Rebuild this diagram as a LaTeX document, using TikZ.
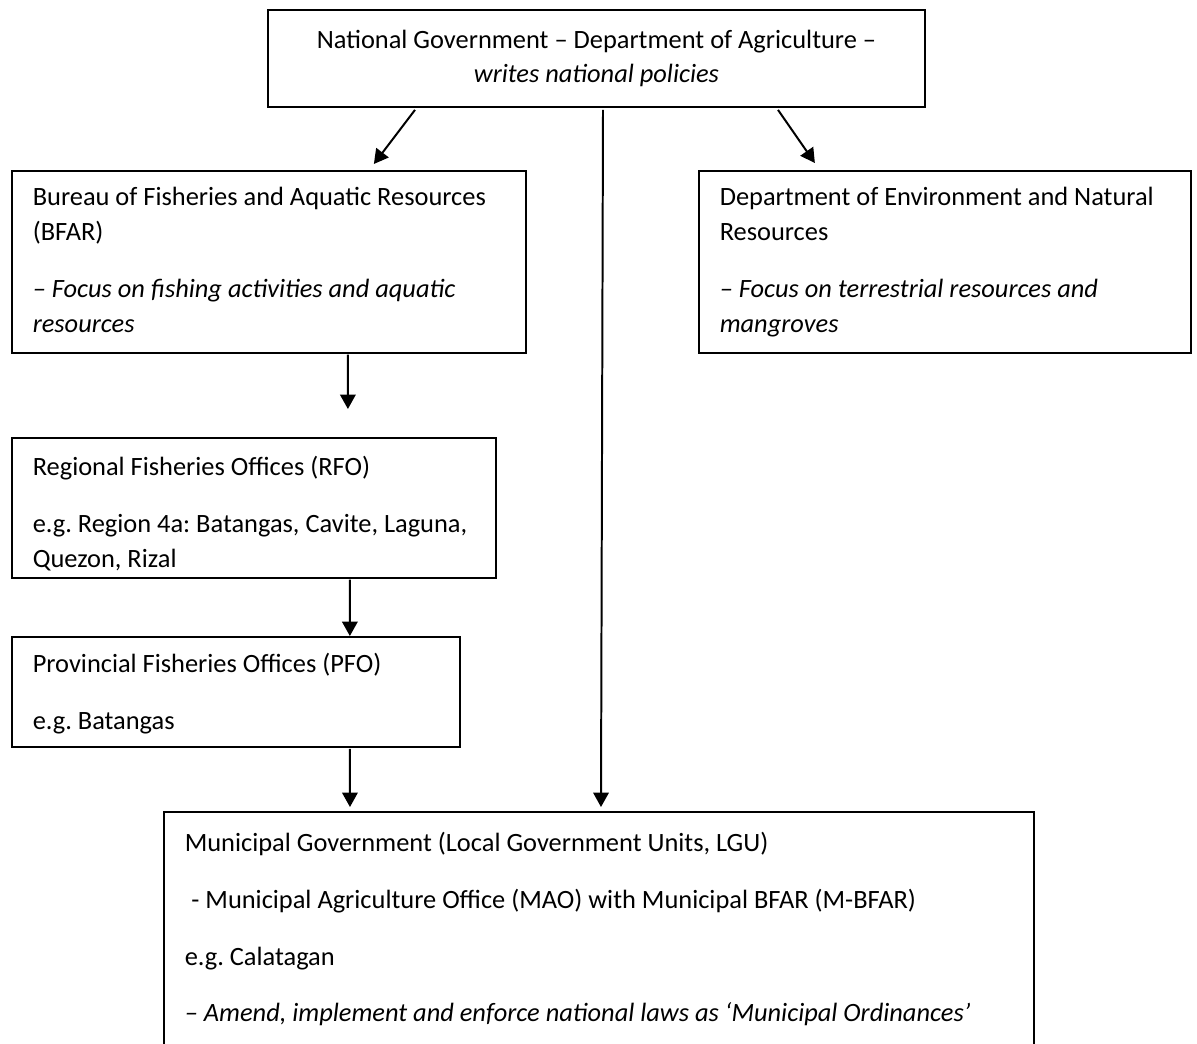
\documentclass[tikz,border=0pt]{standalone}
\usepackage{fontspec}
\setmainfont{Carlito}
\usetikzlibrary{arrows.meta}

\begin{document}
\begin{tikzpicture}[
  x=0.4545pt, y=0.4545pt,
  topbox/.style={rectangle, draw, line width=0.8pt,
                 minimum width=298.6pt, minimum height=44.1pt,
                 align=flush center, font=\fontsize{12}{15.8}\selectfont},
  box/.style={rectangle, draw, line width=0.8pt, anchor=north west,
              align=flush left, inner xsep=0pt, inner ysep=0pt, text height=15.9pt,
              execute at begin node={\leftskip=9.5pt\frenchspacing},
              font=\fontsize{12}{15.8}\selectfont},
  arrow/.style={-{Triangle[length=6.5pt, width=7pt]}, line width=0.9pt},
]
  \useasboundingbox (0,0) rectangle (1197,-1043);
  \clip (0,0) rectangle (1197,-1043);

  \node[topbox] (nat) at (596.5,-58.5) {National Government – Department of Agriculture –\\ \textit{writes national policies}};
  \node[box, text width=233.6pt, text depth=66.8pt] (bfar) at (11,-170)
    {Bureau of Fisheries and Aquatic Resources\\ (BFAR)\\[10pt] \textit{– Focus on fishing activities and aquatic}\\ \textit{resources}};
  \node[box, text width=223.6pt, text depth=66.8pt] (denr) at (698,-170)
    {Department of Environment and Natural\\ Resources\\[10pt] \textit{– Focus on terrestrial resources and}\\ \textit{mangroves}};
  \node[box, text width=220pt, text height=17.2pt, text depth=46.4pt] (rfo) at (11,-437)
    {Regional Fisheries Offices (RFO)\\[10pt] e.g. Region 4a: Batangas, Cavite, Laguna,\\ Quezon, Rizal};
  \node[box, text width=203.6pt, text height=16.3pt, text depth=33.7pt] (pfo) at (11,-636)
    {Provincial Fisheries Offices (PFO)\\[10pt] e.g. Batangas};
  \node[box, text width=395.5pt, text height=18pt, text depth=140pt] (mun) at (163,-811)
    {Municipal Government (Local Government Units, LGU)\\[10pt]
     \hspace*{3pt}- Municipal Agriculture Office (MAO) with Municipal BFAR (M-BFAR)\\[10pt]
     e.g. Calatagan\\[10pt]
     \textit{– Amend, implement and enforce national laws as ‘Municipal Ordinances’}};

  \draw[arrow] ([shift={(-181.5,-2)}]nat.south) -- ([shift={(105,6)}]bfar.north);
  \draw[arrow] ([shift={(181.5,-2)}]nat.south) -- ([shift={(-130,7)}]denr.north);
  \draw[arrow] ([shift={(6.5,-2)}]nat.south) -- ([shift={(2,4)}]mun.north);
  \draw[arrow] ([shift={(79,-1)}]bfar.south) -- ([shift={(94,28)}]rfo.north);
  \draw[arrow] ([shift={(96,-1)}]rfo.south) -- ([shift={(114,0)}]pfo.north);
  \draw[arrow] ([shift={(114,-1)}]pfo.south) -- ([shift={(-249,4)}]mun.north);
\end{tikzpicture}
\end{document}
